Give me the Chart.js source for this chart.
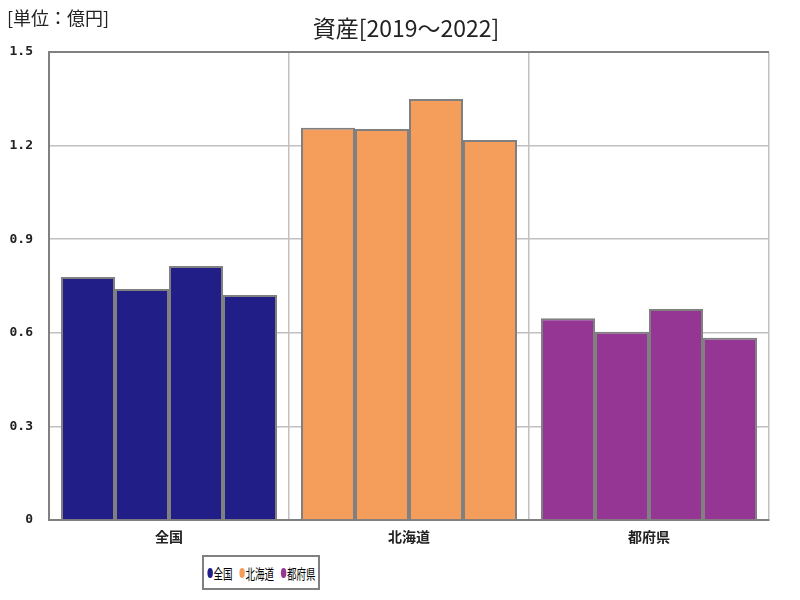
<!DOCTYPE html>
<html>
<head>
<meta charset="utf-8">
<script src="https://cdn.jsdelivr.net/npm/chart.js@4"></script>
<style>
html,body{margin:0;padding:0;background:#fff;}
#wrap{position:relative;width:800px;height:600px;}
#legend{position:absolute;left:202px;top:555px;width:114px;height:31px;border:2px solid #808080;background:#fff;overflow:hidden;
display:flex;align-items:center;justify-content:center;font-family:"Noto Sans CJK JP",sans-serif;font-size:14px;color:#000;}
#legend .inner{display:inline-flex;align-items:center;white-space:nowrap;transform:scaleX(0.68);transform-origin:center;flex:none;}
#legend span.item{display:inline-flex;align-items:center;margin:0 5px;white-space:nowrap;}
#legend span.dot{display:inline-block;width:8px;height:10px;border-radius:50%;margin-right:1px;}
</style>
</head>
<body>
<div id="wrap">
<canvas id="c" width="800" height="600"></canvas>
<div id="legend"><span class="inner" id="lgi"></span></div>
</div>
<script>
const categories = ['全国', '北海道', '都府県'];
const years = ['2019', '2020', '2021', '2022'];
const v2019 = [0.779, 1.257, 0.647];
const v2020 = [0.740, 1.253, 0.603];
const v2021 = [0.814, 1.349, 0.676];
const v2022 = [0.721, 1.218, 0.584];
const yTicks = [0, 0.3, 0.6, 0.9, 1.2, 1.5];
const colors = ['#221e88', '#f59e5c', '#963694'];
const titleText = '資産[2019～2022]';
const unitText = '[単位：億円]';

const series = [v2019, v2020, v2021, v2022];

const textPlugin = {
  id: 'texts',
  afterDraw(chart) {
    const ctx = chart.ctx;
    ctx.save();
    ctx.fillStyle = '#222';
    ctx.textBaseline = 'middle';
    ctx.font = '23px "Noto Sans CJK JP", sans-serif';
    ctx.textAlign = 'center';
    ctx.fillText(titleText, 406, 28);
    ctx.font = '18px "Noto Sans CJK JP", sans-serif';
    ctx.textAlign = 'left';
    ctx.fillText(unitText, 7, 18);
    ctx.restore();
  }
};

new Chart(document.getElementById('c'), {
  type: 'bar',
  data: {
    labels: categories,
    datasets: series.map((vals, i) => ({
      label: years[i],
      data: vals,
      backgroundColor: colors,
      borderColor: '#808080',
      borderWidth: 2,
      categoryPercentage: 0.9,
      barPercentage: 1.0
    }))
  },
  options: {
    responsive: false,
    animation: false,
    layout: { padding: { top: 52, right: 31, bottom: 50, left: 0 } },
    plugins: { legend: { display: false }, title: { display: false }, tooltip: { enabled: false } },
    scales: {
      x: {
        grid: {
          offset: true,
          color: (c) => (c.index === categories.length ? '#808080' : '#c0c0c0'),
          lineWidth: (c) => (c.index === categories.length ? 2 : 1.5),
          drawTicks: false
        },
        border: { color: '#808080', width: 2 },
        ticks: {
          color: '#222',
          font: { family: '"Noto Sans CJK JP", sans-serif', size: 14, weight: 'bold' },
          padding: 8
        },
        afterFit(scale) { scale.height = 30; }
      },
      y: {
        min: 0,
        max: 1.5,
        afterBuildTicks(scale) { scale.ticks = yTicks.map(v => ({ value: v })); },
        grid: {
          color: (c) => (c.tick && c.tick.value === 1.5 ? '#808080' : '#c0c0c0'),
          lineWidth: (c) => (c.tick && c.tick.value === 1.5 ? 2 : 1.5),
          drawTicks: false
        },
        border: { color: '#808080', width: 2 },
        ticks: {
          color: '#222',
          font: { family: '"DejaVu Sans Mono", monospace', size: 13, weight: 'bold' },
          padding: 16,
          callback: (v) => (v === 0 ? '0' : Number(v).toFixed(1))
        },
        afterFit(scale) { scale.width = 49; }
      }
    }
  },
  plugins: [textPlugin]
});

const lg = document.getElementById('lgi');
categories.forEach((name, i) => {
  const it = document.createElement('span');
  it.className = 'item';
  const d = document.createElement('span');
  d.className = 'dot';
  d.style.background = colors[i];
  it.appendChild(d);
  it.appendChild(document.createTextNode(name));
  lg.appendChild(it);
});
</script>
</body>
</html>
